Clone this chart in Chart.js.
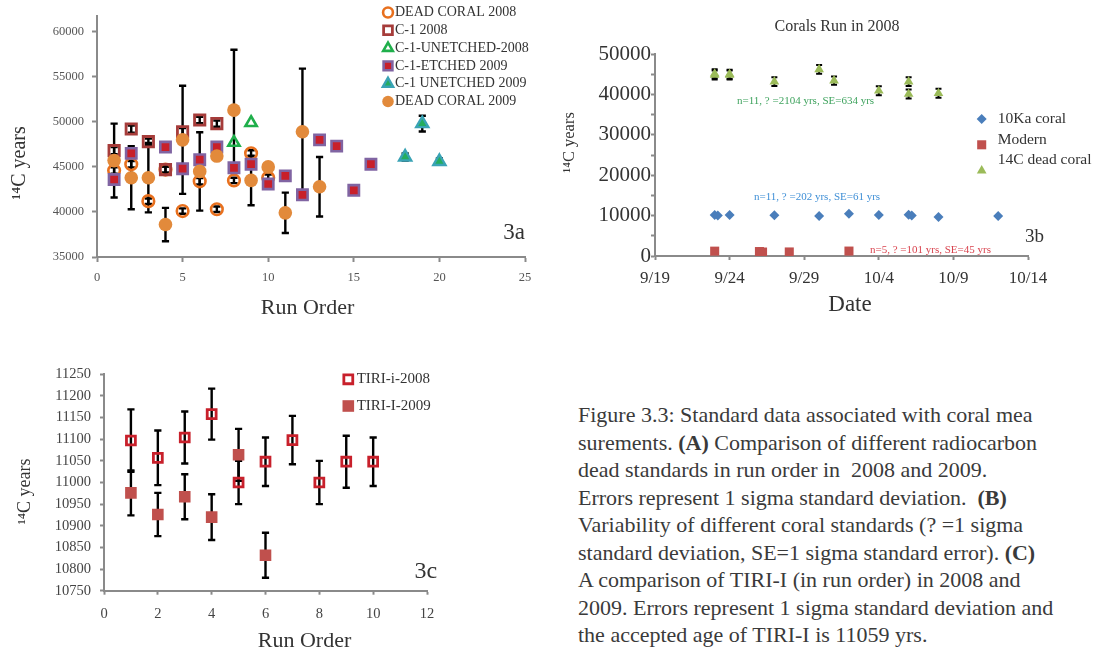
<!DOCTYPE html>
<html>
<head>
<meta charset="utf-8">
<script src="https://cdn.jsdelivr.net/npm/chart.js@4.4.1/dist/chart.umd.min.js"></script>
<style>
  body { margin: 0; background: #fff; width: 1102px; height: 654px; overflow: hidden; position: relative; font-family: 'Liberation Serif', serif; }
  canvas { position: absolute; }
  #caption { position: absolute; left: 578px; top: 401px; font-size: 22px; line-height: 27.5px; color: #3a3a3a; white-space: nowrap; }
</style>
</head>
<body>
<canvas id="fig3a" width="545" height="330" style="left:0;top:0"></canvas>
<canvas id="fig3b" width="558" height="330" style="left:544px;top:0"></canvas>
<canvas id="fig3c" width="460" height="314" style="left:0;top:340px"></canvas>
<div id="caption">Figure 3.3: Standard data associated with coral mea<br>surements. <b>(A)</b> Comparison of different radiocarbon<br>dead standards in run order in &nbsp;2008 and 2009.<br>Errors represent 1 sigma standard deviation. &nbsp;<b>(B)</b><br>Variability of different coral standards (? =1 sigma<br>standard deviation, SE=1 sigma standard error). <b>(C)</b><br>A comparison of TIRI-I (in run order) in 2008 and<br>2009. Errors represent 1 sigma standard deviation and<br>the accepted age of TIRI-I is 11059 yrs.</div>
<script>
// ---- 3a: dead standards, run order ----
const ageTicks3a = [35000, 40000, 45000, 50000, 55000, 60000];

const deadCoral2008Run = [1, 2, 3, 4, 5, 6, 7, 8, 9, 10];
const deadCoral2008Age = [44600, 45300, 41200, 44700, 40100, 43400, 40300, 43500, 46500, 43800];
const deadCoral2008Err = [350, 350, 300, 350, 300, 350, 300, 300, 350, 350];

const c1_2008Run = [1, 2, 3, 4, 5, 6, 7];
const c1_2008Age = [46800, 49200, 47800, 44700, 48900, 50200, 49800];
const c1_2008Err = [400, 400, 350, 350, 400, 350, 350];

const c1Unetched2008Run = [8, 9];
const c1Unetched2008Age = [47700, 49900];

const c1Etched2009Run = [1, 2, 4, 5, 6, 7, 8, 9, 10, 11, 12, 13, 14, 15, 16];
const c1Etched2009Age = [43600, 46500, 47200, 44800, 45800, 47200, 44900, 45300, 43100, 44000, 41900, 48000, 47300, 42400, 45300];

const c1Unetched2009Run = [18, 19, 20];
const c1Unetched2009Age = [46100, 49800, 45600];
const c1Unetched2009Err = [400, 870, 350];

const deadCoral2009Run = [1, 2, 3, 4, 5, 6, 7, 8, 9, 10, 11, 12, 13];
const deadCoral2009Age = [45700, 43800, 43800, 38600, 48000, 44500, 46200, 51300, 43500, 45000, 39900, 48900, 42800];
const deadCoral2009Err = [4100, 3500, 3850, 1850, 6000, 4350, 0, 6700, 2750, 0, 2240, 7000, 3300];

// ---- 3b: corals run in 2008, by date ----
const startDate = '2008-09-19T00:00';
const tenKaDate = ['2008-09-23T00:00', '2008-09-23T05:00', '2008-09-24T00:00', '2008-09-27T00:00', '2008-09-30T00:00', '2008-10-02T00:00',
                   '2008-10-04T00:00', '2008-10-06T00:00', '2008-10-06T05:00', '2008-10-08T00:00', '2008-10-12T00:00'];
const tenKaAge = [10150, 10050, 10150, 10100, 9900, 10450, 10150, 10200, 10050, 9650, 9900];

const modernDate = ['2008-09-23T00:00', '2008-09-26T00:00', '2008-09-26T05:00', '2008-09-28T00:00', '2008-10-02T00:00'];
const modernAge = [1200, 1100, 980, 1000, 1220];

const deadDate = ['2008-09-23T00:00', '2008-09-23T00:00', '2008-09-24T00:00', '2008-09-24T00:00', '2008-09-27T00:00', '2008-09-30T00:00',
                  '2008-10-01T00:00', '2008-10-04T00:00', '2008-10-06T00:00', '2008-10-06T00:00', '2008-10-08T00:00'];
const deadAge = [44800, 45100, 44800, 45000, 43150, 46200, 43400, 40900, 43150, 40100, 40270];
const deadErr = [1100, 1100, 1100, 1100, 1100, 1100, 1000, 1100, 1100, 1100, 1100];

// ---- 3c: TIRI-I, run order ----
const tiri2008Run = [1, 2, 3, 4, 5, 6, 7, 8, 9, 10];
const tiri2008Age = [11097, 11057, 11104, 11158, 11000, 11048, 11098, 11000, 11048, 11048];
const tiri2008Err = [72, 63, 60, 59, 50, 56, 56, 50, 60, 56];
const tiri2009Run = [1, 2, 3, 4, 5, 6];
const tiri2009Age = [10976, 10926, 10967, 10920, 11064, 10832];
const tiri2009Err = [52, 50, 52, 53, 60, 52];

const serif = "'Liberation Serif', serif";
const axisGray = '#8a8a8a';

const pts = (xs, ys) => xs.map((x, i) => ({ x, y: ys[i] }));
const dayOf = s => (Date.parse(s) - Date.parse(startDate)) / 86400000;

// black error bars, drawn behind the markers
const errorBars = {
  id: 'errorBars',
  beforeDatasetsDraw(chart, args, o) {
    const { ctx, scales: { x, y } } = chart;
    ctx.save();
    ctx.strokeStyle = '#000';
    ctx.lineWidth = o.width;
    chart.data.datasets.forEach(ds => {
      if (!ds.err) return;
      ds.data.forEach((p, i) => {
        const e = ds.err[i];
        if (!e) return;
        const px = x.getPixelForValue(p.x);
        const t = y.getPixelForValue(p.y + e);
        const b = y.getPixelForValue(p.y - e);
        ctx.beginPath();
        ctx.moveTo(px, t); ctx.lineTo(px, b);
        ctx.moveTo(px - o.cap, t); ctx.lineTo(px + o.cap, t);
        ctx.moveTo(px - o.cap, b); ctx.lineTo(px + o.cap, b);
        ctx.stroke();
      });
    });
    ctx.restore();
  }
};

// excel-style legend list placed over the plot
const sideLegend = {
  id: 'sideLegend',
  afterDraw(chart, args, o) {
    const ctx = chart.ctx;
    chart.data.datasets.forEach((ds, i) => {
      ctx.save();
      ctx.fillStyle = ds.pointBackgroundColor;
      ctx.strokeStyle = ds.pointBorderColor;
      ctx.lineWidth = ds.pointBorderWidth;
      Chart.helpers.drawPoint(ctx, { pointStyle: ds.pointStyle, radius: ds.pointRadius * o.scale, borderWidth: ds.pointBorderWidth, rotation: 0 },
        o.iconX, o.iconY + i * o.iconStep);
      ctx.restore();
      ctx.save();
      ctx.font = o.size + 'px ' + serif;
      ctx.fillStyle = o.color;
      ctx.textBaseline = 'middle';
      ctx.fillText(ds.label, o.textX, o.textY + i * o.textStep);
      ctx.restore();
    });
  }
};

// text placed at data coordinates (x, y) or canvas pixels (px, py)
const notes = {
  id: 'notes',
  afterDraw(chart, args, o) {
    const { ctx, scales: { x, y } } = chart;
    o.items.forEach(n => {
      const px = n.px !== undefined ? n.px : x.getPixelForValue(n.x);
      const py = n.py !== undefined ? n.py : y.getPixelForValue(n.y);
      ctx.save();
      ctx.font = n.size + 'px ' + serif;
      ctx.fillStyle = n.color;
      ctx.textAlign = n.align || 'left';
      ctx.textBaseline = 'middle';
      ctx.translate(px, py);
      if (n.rotate) ctx.rotate(n.rotate * Math.PI / 180);
      ctx.fillText(n.text, 0, 0);
      ctx.restore();
    });
  }
};

function axis(o) {
  const s = {
    type: 'linear',
    min: o.min,
    max: o.max,
    border: { color: axisGray, width: 2 },
    grid: { drawOnChartArea: false, drawTicks: true, tickLength: o.tick, tickWidth: 2, color: axisGray },
    ticks: { stepSize: o.step, padding: o.pad, color: o.color, autoSkip: false, maxRotation: 0,
             font: { family: serif, size: o.size }, callback: o.label || (v => String(v)) },
    title: { display: false },
    afterFit: o.fit
  };
  if (o.tickList) s.afterBuildTicks = sc => { sc.ticks = o.tickList.map(v => ({ value: v })); };
  return s;
}

function build(id, datasets, o) {
  return new Chart(document.getElementById(id), {
    type: 'scatter',
    data: { datasets },
    plugins: [errorBars, sideLegend, notes],
    options: {
      responsive: false,
      animation: false,
      events: [],
      layout: { padding: o.padding },
      plugins: {
        legend: { display: false },
        tooltip: { enabled: false },
        title: { display: false },
        errorBars: o.err,
        sideLegend: o.legend,
        notes: { items: o.notes }
      },
      scales: { x: o.x, y: o.y }
    }
  });
}

// ---------- 3a ----------
const ds3a = [
  { label: 'DEAD CORAL 2008', data: pts(deadCoral2008Run, deadCoral2008Age), err: deadCoral2008Err,
    pointStyle: 'circle', pointRadius: 5.8, pointBorderWidth: 2.6, pointBorderColor: '#e8701e', pointBackgroundColor: 'rgba(255,255,255,0)' },
  { label: 'C-1 2008', data: pts(c1_2008Run, c1_2008Age), err: c1_2008Err,
    pointStyle: 'rect', pointRadius: 7.3, pointBorderWidth: 2.8, pointBorderColor: '#a63c3a', pointBackgroundColor: 'rgba(255,255,255,0)' },
  { label: 'C-1-UNETCHED-2008', data: pts(c1Unetched2008Run, c1Unetched2008Age),
    pointStyle: 'triangle', pointRadius: 6.5, pointBorderWidth: 2.6, pointBorderColor: '#1faf4b', pointBackgroundColor: 'rgba(255,255,255,0)' },
  { label: 'C-1-ETCHED 2009', data: pts(c1Etched2009Run, c1Etched2009Age),
    pointStyle: 'rect', pointRadius: 7.3, pointBorderWidth: 2.6, pointBorderColor: '#8064a2', pointBackgroundColor: '#c8202a' },
  { label: 'C-1 UNETCHED 2009', data: pts(c1Unetched2009Run, c1Unetched2009Age), err: c1Unetched2009Err,
    pointStyle: 'triangle', pointRadius: 7, pointBorderWidth: 2.4, pointBorderColor: '#3aa3b5', pointBackgroundColor: '#25ad5e' },
  { label: 'DEAD CORAL 2009', data: pts(deadCoral2009Run, deadCoral2009Age), err: deadCoral2009Err,
    pointStyle: 'circle', pointRadius: 6.8, pointBorderWidth: 0, pointBorderColor: '#e28a3b', pointBackgroundColor: '#e28a3b' }
];
ds3a.forEach((d, i) => { d.order = ds3a.length - i; });

build('fig3a', ds3a, {
  padding: { top: 12, right: 20, left: 0, bottom: 0 },
  err: { width: 2.4, cap: 3.6 },
  legend: { iconX: 388, textX: 395, iconY: 12.5, iconStep: 17.8, textY: 12.5, textStep: 17.8, size: 14, color: '#333', scale: 0.85 },
  notes: [
    { text: '3a', x: 25, y: 37700, size: 23, color: '#333', align: 'right' },
    { text: 'Run Order', px: 307.5, py: 308, size: 22, color: '#333', align: 'center' },
    { text: '¹⁴C years', px: 20, py: 163, size: 20, color: '#333', align: 'center', rotate: -90 }
  ],
  x: axis({ min: 0, max: 25, step: 5, tick: 5, pad: 8, size: 12.5, color: '#555', fit: s => { s.height = 73; } }),
  y: axis({ min: 35000, max: 61800, tick: 5, pad: 8, size: 12.5, color: '#555', tickList: ageTicks3a, fit: s => { s.width = 97; } })
});

// ---------- 3b ----------
const ds3b = [
  { label: '10Ka coral', data: pts(tenKaDate.map(dayOf), tenKaAge),
    pointStyle: 'rectRot', pointRadius: 5, pointBorderWidth: 0, pointBorderColor: '#4a7ebb', pointBackgroundColor: '#4a7ebb' },
  { label: 'Modern', data: pts(modernDate.map(dayOf), modernAge),
    pointStyle: 'rect', pointRadius: 6.4, pointBorderWidth: 0, pointBorderColor: '#c0504d', pointBackgroundColor: '#c0504d' },
  { label: '14C dead coral', data: pts(deadDate.map(dayOf), deadAge), err: deadErr,
    pointStyle: 'triangle', pointRadius: 5.6, pointBorderWidth: 0, pointBorderColor: '#9bbb59', pointBackgroundColor: '#9bbb59' }
];

build('fig3b', ds3b, {
  padding: { top: 54, right: 74, left: 0, bottom: 0 },
  err: { width: 2, cap: 3 },
  legend: { iconX: 437.7, textX: 453.7, iconY: 119, iconStep: 25.8, textY: 119.3, textStep: 20.3, size: 15.5, color: '#333', scale: 1 },
  notes: [
    { text: 'Corals Run in 2008', px: 293, py: 27, size: 16, color: '#333', align: 'center' },
    { text: 'n=11, ? =2104 yrs, SE=634 yrs', x: 5.5, y: 38400, size: 11, color: '#3fa35e' },
    { text: 'n=11, ? =202 yrs, SE=61 yrs', x: 6.64, y: 14600, size: 11, color: '#3f8fd6' },
    { text: 'n=5, ? =101 yrs, SE=45 yrs', x: 14.41, y: 1500, size: 11, color: '#d9434e' },
    { text: '3b', x: 26.07, y: 4700, size: 19, color: '#333', align: 'right' },
    { text: 'Date', px: 306, py: 305, size: 23, color: '#333', align: 'center' },
    { text: '¹⁴C years', px: 26, py: 142.5, size: 16.5, color: '#333', align: 'center', rotate: -90 }
  ],
  x: axis({ min: 0, max: 25, step: 5, tick: 4, pad: 8, size: 17, color: '#333', fit: s => { s.height = 74; },
            label: v => { const d = new Date(2008, 8, 19 + v); return (d.getMonth() + 1) + '/' + d.getDate(); } }),
  y: axis({ min: 0, max: 50000, step: 5000, tick: 4, pad: 0, size: 21, color: '#333', fit: s => { s.width = 111; },
            label: v => (v % 10000 === 0 ? String(v) : '') })
});

// ---------- 3c ----------
const ds3c = [
  { label: 'TIRI-i-2008', data: pts(tiri2008Run, tiri2008Age), err: tiri2008Err,
    pointStyle: 'rect', pointRadius: 6.3, pointBorderWidth: 2.8, pointBorderColor: '#c8202b', pointBackgroundColor: 'rgba(255,255,255,0)' },
  { label: 'TIRI-I-2009', data: pts(tiri2009Run, tiri2009Age), err: tiri2009Err,
    pointStyle: 'rect', pointRadius: 8.2, pointBorderWidth: 0, pointBorderColor: '#c0504d', pointBackgroundColor: '#c0504d' }
];

build('fig3c', ds3c, {
  padding: { top: 34.3, right: 33, left: 0, bottom: 0 },
  err: { width: 2.4, cap: 3.6 },
  legend: { iconX: 348.3, textX: 356.7, iconY: 39.3, iconStep: 26.7, textY: 39.3, textStep: 26.7, size: 15, color: '#333', scale: 1 },
  notes: [
    { text: '3c', x: 12.38, y: 10793, size: 24, color: '#333', align: 'right' },
    { text: 'Run Order', px: 304.5, py: 301.7, size: 22, color: '#333', align: 'center' },
    { text: '¹⁴C years', px: 25, py: 151.5, size: 18, color: '#333', align: 'center', rotate: -90 }
  ],
  x: axis({ min: 0, max: 12, step: 2, tick: 4, pad: 11, size: 14.5, color: '#444', fit: s => { s.height = 63.3; } }),
  y: axis({ min: 10750, max: 11250, step: 50, tick: 4, pad: 9, size: 14.5, color: '#444', fit: s => { s.width = 104; } })
});
</script>
</body>
</html>
